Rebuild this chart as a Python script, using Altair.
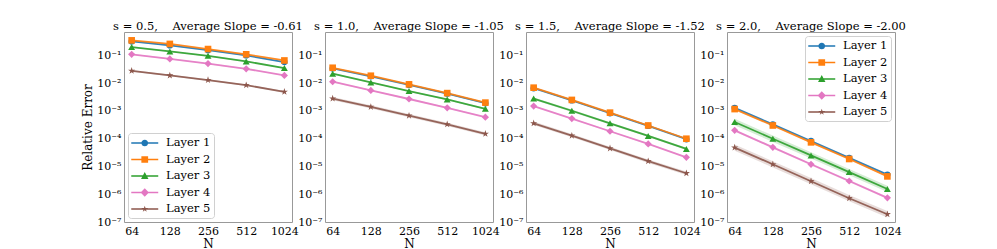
import altair as alt
import pandas as pd

# ---------------- data ----------------
N_VALUES = [64, 128, 256, 512, 1024]
S_VALUES = ["0.5", "1.0", "1.5", "2.0"]
SLOPES = ["-0.61", "-1.05", "-1.52", "-2.00"]
LAYERS = ["Layer 1", "Layer 2", "Layer 3", "Layer 4", "Layer 5"]

# relative errors, panel s = 0.5
err_s05 = [
    [0.32, 0.23, 0.155, 0.10, 0.058],
    [0.35, 0.26, 0.17, 0.11, 0.066],
    [0.20, 0.14, 0.097, 0.061, 0.035],
    [0.11, 0.075, 0.051, 0.033, 0.019],
    [0.028, 0.019, 0.013, 0.0085, 0.0049],
]
# panel s = 1.0
err_s10 = [
    [0.034, 0.0177, 0.0087, 0.0042, 0.0019],
    [0.036, 0.0186, 0.0091, 0.0044, 0.0020],
    [0.022, 0.0107, 0.0052, 0.0026, 0.0012],
    [0.0113, 0.0055, 0.0027, 0.0013, 0.0006],
    [0.0028, 0.0014, 0.00068, 0.00033, 0.00015],
]
# panel s = 1.5
err_s15 = [
    [0.0066, 0.0024, 0.00083, 0.00029, 0.000096],
    [0.0069, 0.0025, 0.00087, 0.0003, 0.0001],
    [0.0028, 0.00102, 0.00036, 0.000126, 0.000043],
    [0.0015, 0.00053, 0.000186, 0.000065, 0.0000214],
    [0.00036, 0.000129, 0.000045, 0.0000155, 0.0000057],
]
# panel s = 2.0
err_s20 = [
    [0.0013, 0.00033, 0.000083, 0.0000205, 0.0000051],
    [0.00117, 0.0003, 0.000074, 0.0000186, 0.0000044],
    [0.0004, 0.0001, 0.000025, 0.0000063, 0.00000155],
    [0.0002, 0.000049, 0.000012, 0.000003, 0.00000074],
    [0.000048, 0.000012, 0.00000295, 0.00000072, 0.00000019],
]
# multiplicative half-width of the shaded spread, per layer
spread_s05 = [1.04, 1.04, 1.05, 1.05, 1.06]
spread_s10 = [1.04, 1.04, 1.06, 1.06, 1.15]
spread_s15 = [1.04, 1.04, 1.10, 1.06, 1.15]
spread_s20 = [1.05, 1.05, 1.30, 1.10, 1.30]

ERRORS = [err_s05, err_s10, err_s15, err_s20]
SPREADS = [spread_s05, spread_s10, spread_s15, spread_s20]

# ---------------- styles ----------------
COLORS = ["#1f77b4", "#ff7f0e", "#2ca02c", "#e377c2", "#8c564b"]
STAR = ("M0,-1L0.223,-0.307L0.951,-0.309L0.361,0.117L0.588,0.809L0,0.38"
        "L-0.588,0.809L-0.361,0.117L-0.951,-0.309L-0.223,-0.307Z")
SHAPES = ["circle", "square", "triangle-up", "diamond", STAR]
SIZES = [40, 56, 56, 50, 44]

LINE = "M-1,-0.12L3,-0.12L3,0.12L-1,0.12Z"
LEG_SHAPES = [
    LINE + "M1.5,0A0.5,0.5 0 1,1 0.5,0A0.5,0.5 0 1,1 1.5,0Z",
    LINE + "M0.5,-0.5L1.5,-0.5L1.5,0.5L0.5,0.5Z",
    LINE + "M1,-0.6L1.55,0.45L0.45,0.45Z",
    LINE + "M1,-0.62L1.62,0L1,0.62L0.38,0Z",
    LINE + ("M1,-0.5L1.111,-0.154L1.476,-0.155L1.181,0.059L1.294,0.405L1,0.19"
            "L0.706,0.405L0.819,0.059L0.524,-0.155L0.889,-0.154Z"),
]
FONT = "DejaVu Serif"

SUP = "['⁰','¹','²','³','⁴','⁵','⁶','⁷','⁸','⁹']"
YLABEL = ("'10' + (datum.value < 1 ? '⁻' : '') + "
          + SUP + "[abs(round(log(datum.value) / LN10))]")

xscale = alt.Scale(type="log", base=2, domain=[55.7, 1176], nice=False)
yscale = alt.Scale(type="log", domain=[1e-7, 0.7], nice=False)
cscale = alt.Scale(domain=LAYERS, range=COLORS)


def panel(i):
    rows = []
    for li, layer in enumerate(LAYERS):
        for ni, n in enumerate(N_VALUES):
            v = ERRORS[i][li][ni]
            f = SPREADS[i][li]
            rows.append({"N": n, "err": v, "lo": v / f, "hi": v * f, "layer": layer})
    df = pd.DataFrame(rows)
    base = alt.Chart(df)
    x = alt.X("N:Q", scale=xscale,
              axis=alt.Axis(values=N_VALUES, title="N", labelFlush=False, format="d"))
    y = alt.Y("err:Q", scale=yscale,
              axis=alt.Axis(values=[1e-7, 1e-6, 1e-5, 1e-4, 1e-3, 1e-2, 1e-1],
                            labelExpr=YLABEL,
                            title="Relative Error" if i == 0 else None))
    band = base.mark_area(opacity=0.2).encode(
        x=x, y=alt.Y("lo:Q", scale=yscale), y2="hi:Q",
        color=alt.Color("layer:N", scale=cscale, legend=None))
    line = base.mark_line(strokeWidth=1.8, opacity=0.9).encode(
        x=x, y=y, color=alt.Color("layer:N", scale=cscale, legend=None))
    pts = base.mark_point(filled=True, opacity=1).encode(
        x=x, y=y,
        color=alt.Color("layer:N", scale=cscale, legend=None),
        shape=alt.Shape("layer:N", scale=alt.Scale(domain=LAYERS, range=SHAPES), legend=None),
        size=alt.Size("layer:N", scale=alt.Scale(domain=LAYERS, range=SIZES), legend=None))
    layers = [band, line, pts]
    if i in (0, 3):
        leg = dict(orient="bottom-left" if i == 0 else "top-right", offset=4,
                   title=None, padding=3, rowPadding=3.5, labelOffset=21,
                   symbolSize=182, symbolStrokeWidth=0, symbolOpacity=1,
                   labelFont=FONT, labelFontSize=11.5, labelColor="black",
                   strokeColor="#d0d0d0", fillColor="white", cornerRadius=3)
        lg = base.mark_point(filled=True).encode(
            color=alt.Color("layer:N", scale=cscale, legend=alt.Legend(**leg)),
            shape=alt.Shape("layer:N", scale=alt.Scale(domain=LAYERS, range=LEG_SHAPES),
                            legend=alt.Legend(**leg)),
        ).transform_filter("false")
        layers.append(lg)
    title = alt.TitleParams(
        f"s = {S_VALUES[i]},\u00a0\u00a0\u00a0\u00a0Average Slope = {SLOPES[i]}",
        font=FONT, fontSize=11.5, fontWeight="normal", color="black", offset=0,
        frame="group", anchor="middle")
    return alt.layer(*layers).resolve_scale(
        color="independent", shape="independent", size="independent"
    ).properties(width=168, height=190, title=title)


chart = alt.hconcat(*[panel(i) for i in range(4)], spacing=33, bounds="flush").properties(
    padding={"left": 73, "top": 12, "right": 5, "bottom": 5},
).configure_view(stroke="#999999", strokeWidth=1).configure_axis(
    labelFont=FONT, labelFontSize=11, labelColor="black",
    titleFont=FONT, titleFontSize=12, titleFontWeight="normal", titleColor="black",
    domain=False, ticks=False, grid=False, labelPadding=3, titlePadding=2,
)

chart.save("out.html", embed_options={"renderer": "svg", "actions": False})
